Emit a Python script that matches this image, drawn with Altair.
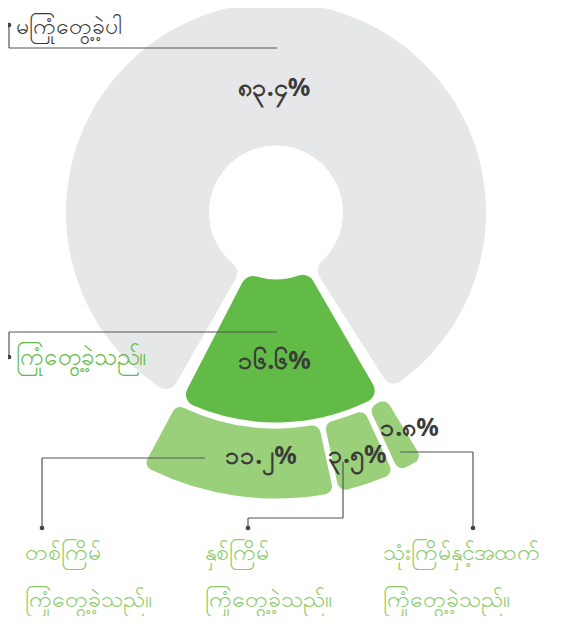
import math
import altair as alt
import pandas as pd

# ---------------- data ----------------
main_categories = ["မကြုံတွေ့ခဲ့ပါ", "ကြုံတွေ့ခဲ့သည်။"]
main_values = [83.4, 16.6]
main_labels = ["၈၃.၄%", "၁၆.၆%"]

sub_categories = ["သုံးကြိမ်နှင့်အထက်", "နှစ်ကြိမ်", "တစ်ကြိမ်"]
sub_values = [1.8, 3.5, 11.2]
sub_labels = ["၁.၈%", "၃.၅%", "၁၁.၂%"]
sub_second_line = "ကြုံတွေ့ခဲ့သည်။"

# ---------------- tables ----------------
main_df = pd.DataFrame({"cat": main_categories, "value": main_values, "label": main_labels})
main_df["end"] = main_df["value"].cumsum()
main_df["start"] = main_df["end"] - main_df["value"]
main_df["mid"] = (main_df["start"] + main_df["end"]) / 2

sub_df = pd.DataFrame({"cat": sub_categories, "value": sub_values, "label": sub_labels})
sub_df["end"] = main_values[0] + sub_df["value"].cumsum()
sub_df["start"] = sub_df["end"] - sub_df["value"]
sub_df["mid"] = (sub_df["start"] + sub_df["end"]) / 2

# ---------------- styling ----------------
FONT = "Noto Sans"
GREY = "#e6e7e8"
GREEN = "#62bb46"
LIGHT = "#9ad07a"
LABEL_GREEN = "#8ccb6b"
DARK = "#3b3b3b"
LINE = "#555555"

CX, CY = 268, 204.5
start_angle = math.radians(208.5)
theta_scale = alt.Scale(domain=[0, 100], range=[start_angle, start_angle + 2 * math.pi])
INSET = 0.33  # angular breathing room between the two main arcs (data units)

main_color = alt.Color("cat:N", scale=alt.Scale(domain=main_categories, range=[GREY, GREEN]), legend=None)

main_arc = alt.Chart(main_df).transform_calculate(
    t0=f"datum.start + {INSET}", t1=f"datum.end - {INSET}"
).mark_arc(
    x=CX, y=CY, radius=210, radius2=67, padAngle=0.02, cornerRadius=12
).encode(
    theta=alt.Theta("t0:Q", scale=theta_scale, stack=None),
    theta2="t1:Q",
    color=main_color,
)

sub_arc = alt.Chart(sub_df).mark_arc(
    x=CX, y=CY, radius=286, radius2=216, padAngle=0.016, cornerRadius=8, color=LIGHT
).encode(
    theta=alt.Theta("start:Q", scale=theta_scale, stack=None),
    theta2="end:Q",
)


def pct_text(df, cat, radius, dx=0, dy=0):
    return alt.Chart(df).transform_filter(alt.datum.cat == cat).mark_text(
        x=CX, y=CY, font=FONT, fontSize=25, fontWeight="bold", color=DARK,
        align="center", baseline="middle", dx=dx, dy=dy
    ).encode(
        theta=alt.Theta("mid:Q", scale=theta_scale, stack=None),
        radius=alt.value(radius),
        text="label:N",
    )


texts = [
    pct_text(main_df, main_categories[0], 124, dx=1, dy=-1),
    pct_text(main_df, main_categories[1], 149, dx=-5),
    pct_text(sub_df, sub_categories[2], 245, dx=19, dy=1),
    pct_text(sub_df, sub_categories[1], 250, dx=2, dy=5),
    pct_text(sub_df, sub_categories[0], 250, dx=16, dy=-5),
]

anchor = pd.DataFrame({"k": [0]})


def seg(x1, y1, x2, y2):
    return alt.Chart(anchor).mark_rule(color=LINE, strokeWidth=1.2).encode(
        x=alt.value(x1 - 8), y=alt.value(y1 - 8), x2=alt.value(x2 - 8), y2=alt.value(y2 - 8)
    )


def dot(x, y):
    return alt.Chart(anchor).mark_circle(color="#444444", size=22, opacity=1).encode(
        x=alt.value(x - 8), y=alt.value(y - 8)
    )


def label(txt, x, y, color, size):
    return alt.Chart(anchor).mark_text(
        text=txt, font=FONT, fontSize=size, color=color, align="left", baseline="middle"
    ).encode(x=alt.value(x - 8), y=alt.value(y - 8))


leaders = [
    seg(9, 25, 9, 48), seg(9, 48, 277, 48), dot(9, 25),
    seg(9, 332, 277, 332), seg(9, 332, 9, 357), dot(9, 357),
    seg(205, 458, 42, 458), seg(42, 458, 42, 528), dot(42, 528),
    seg(343, 462, 343, 518), seg(343, 518, 248, 518), seg(248, 518, 248, 528), dot(248, 528),
    seg(400, 452, 473, 452), seg(473, 452, 473, 528), dot(473, 528),
]

cat_labels = [
    label(main_categories[0], 16, 27, DARK, 23),
    label(main_categories[1], 16, 358, GREEN, 24),
    label(sub_categories[2], 25, 553, LABEL_GREEN, 23),
    label(sub_second_line, 25, 600, LABEL_GREEN, 23),
    label(sub_categories[1], 205, 553, LABEL_GREEN, 23),
    label(sub_second_line, 205, 600, LABEL_GREEN, 23),
    label(sub_categories[0], 383, 553, LABEL_GREEN, 23),
    label(sub_second_line, 383, 600, LABEL_GREEN, 23),
]

chart = alt.layer(main_arc, sub_arc, *texts, *leaders, *cat_labels).properties(
    width=550, height=608, autosize=alt.AutoSizeParams(type="none"), padding=0
).configure_view(stroke=None)

chart.save("out.html", embed_options={"renderer": "svg", "actions": False})
